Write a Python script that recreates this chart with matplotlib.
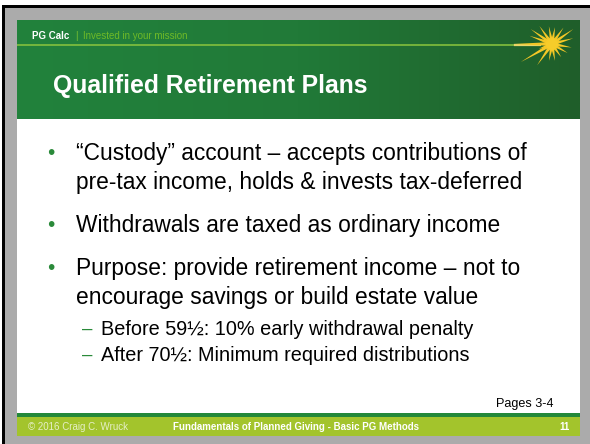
import numpy as np
import matplotlib
matplotlib.use("Agg")
import matplotlib.pyplot as plt
from matplotlib.patches import Rectangle, Polygon
from matplotlib.colors import LinearSegmentedColormap

plt.rcParams['font.family'] = ['Liberation Sans', 'DejaVu Sans']

# ---- content ----
brand = "PG Calc"
tagline = "Invested in your mission"
title = "Qualified Retirement Plans"
bullets = [
    ["\u201cCustody\u201d account \u2013 accepts contributions of",
     "pre-tax income, holds & invests tax-deferred"],
    ["Withdrawals are taxed as ordinary income"],
    ["Purpose: provide retirement income \u2013 not to",
     "encourage savings or build estate value"],
]
sub_bullets = [
    "Before 59\u00bd: 10% early withdrawal penalty",
    "After 70\u00bd: Minimum required distributions",
]
pages_note = "Pages 3-4"
footer_left = "\u00a9 2016 Craig C. Wruck"
footer_mid = "Fundamentals of Planned Giving - Basic PG Methods"
footer_right = "11"

W, H = 590, 444
fig = plt.figure(figsize=(W / 100, H / 100), dpi=100)
ax = fig.add_axes([0, 0, 1, 1])
ax.set_xlim(0, W)
ax.set_ylim(H, 0)
ax.axis('off')
fig.patch.set_facecolor('white')

# outer frame
ax.add_patch(Rectangle((2, 5), W, H, facecolor='black', edgecolor='none', zorder=0))
ax.add_patch(Rectangle((5, 8), W, H, facecolor='#ababab', edgecolor='none', zorder=1))

# slide
SX0, SX1, SY0, SY1 = 17, 580, 21, 436
ax.add_patch(Rectangle((SX0, SY0), SX1 - SX0, SY1 - SY0, facecolor='white', edgecolor='none', zorder=2))

# header gradient
cmap = LinearSegmentedColormap.from_list('hdr', ['#22823c', '#217a38', '#1f5e2a'])
grad = np.linspace(0, 1, 256).reshape(1, -1)
ax.imshow(grad, cmap=cmap, extent=(SX0, SX1, 119, SY0), aspect='auto', zorder=3, interpolation='bilinear')

# thin line under brand, fading into star
ax.plot([SX0, 520], [45, 45], color='#8cc63e', lw=1.1, zorder=4, solid_capstyle='butt')
ax.plot([515, 540], [45, 45], color='#e8d56a', lw=1.6, zorder=4)

# sunburst
cx, cy = 552, 44
rays = [(180, 38), (160, 24), (145, 26), (125, 22), (100, 18), (80, 17), (55, 20),
        (35, 26), (15, 22), (-10, 20), (-30, 18), (-55, 16), (-80, 17), (-100, 17),
        (-125, 26), (-150, 36), (200, 14)]
for ang, ln in rays:
    a = np.deg2rad(ang)
    tip = (cx + ln * np.cos(a), cy - ln * np.sin(a))
    w = 2.0
    p1 = (cx + w * np.cos(a + np.pi / 2), cy - w * np.sin(a + np.pi / 2))
    p2 = (cx + w * np.cos(a - np.pi / 2), cy - w * np.sin(a - np.pi / 2))
    ax.add_patch(Polygon([p1, tip, p2], closed=True, facecolor='#f4c726', edgecolor='none', zorder=5))
circ = plt.Circle((cx, cy), 5.5, color='#f6cc2a', zorder=6)
ax.add_patch(circ)

# brand text
ax.text(32, 36, brand, color='white', fontsize=7, fontweight='bold', va='center', ha='left', zorder=7)
ax.text(75.5, 36, "|", color='#7cc232', fontsize=7, va='center', ha='left', zorder=7)
ax.text(83, 36, tagline, color='#6fba27', fontsize=7, va='center', ha='left', zorder=7)

# title
ax.text(53, 86, title, color='white', fontsize=17.8, fontweight='bold', va='center', ha='left', zorder=7)

# bullets
bullet_y = [153, 225, 268]
line_gap = 29
for lines, y0 in zip(bullets, bullet_y):
    ax.text(47, y0, "\u2022", color='#2a8a3a', fontsize=15, va='center', ha='left', zorder=7)
    for i, ln in enumerate(lines):
        ax.text(76, y0 + i * line_gap, ln, color='black', fontsize=16.4, va='center', ha='left', zorder=7)

sub_y = [329, 355]
for s, y in zip(sub_bullets, sub_y):
    ax.text(82, y, "\u2013", color='#2a8a3a', fontsize=13.5, va='center', ha='left', zorder=7)
    ax.text(101, y, s, color='black', fontsize=14.3, va='center', ha='left', zorder=7)

ax.text(553, 404, pages_note, color='black', fontsize=9.1, va='center', ha='right', zorder=7)

# footer
ax.add_patch(Rectangle((SX0, 413), SX1 - SX0, 4, facecolor='#23883a', edgecolor='none', zorder=4))
ax.add_patch(Rectangle((SX0, 417), SX1 - SX0, SY1 - 417, facecolor='#a3c42c', edgecolor='none', zorder=4))
ax.text(28, 427, footer_left, color='#e6efc8', fontsize=7, va='center', ha='left', zorder=7)
ax.text(173, 427, footer_mid, color='white', fontsize=7, fontweight='bold', va='center', ha='left', zorder=7)
ax.text(570, 427, footer_right, color='white', fontsize=7, fontweight='bold', va='center', ha='right', zorder=7)

fig.savefig('out.png', dpi=100, facecolor='white')
